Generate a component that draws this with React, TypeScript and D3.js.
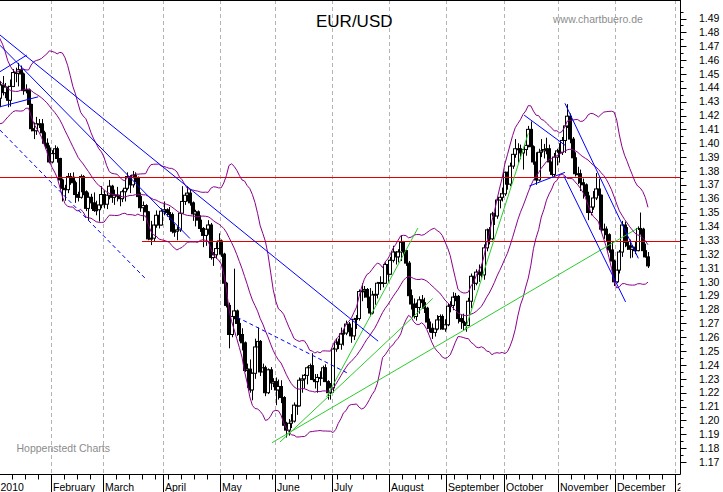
import React, { useEffect, useRef } from "react";
import * as d3 from "d3";

type Ohlc = [number, number, number, number];

// December 2009 closes, only used as lookback for the 20-day bands
const dec2009Closes = [
  1.51, 1.506, 1.506, 1.486, 1.481, 1.47, 1.474, 1.473, 1.462, 1.462, 1.455,
  1.452, 1.434, 1.434, 1.426, 1.428, 1.433, 1.438, 1.438, 1.437, 1.436, 1.434,
  1.433,
];

// Daily EUR/USD candles 2010 (open, high, low, close), one row per weekday
const jan: Ohlc[] = [
  [1.433, 1.434, 1.431, 1.4325],
  [1.4325, 1.445, 1.426, 1.442],
  [1.442, 1.4485, 1.4345, 1.4365],
  [1.4365, 1.4435, 1.4325, 1.4405],
  [1.4405, 1.4415, 1.426, 1.431],
  [1.431, 1.446, 1.4265, 1.441],
  [1.441, 1.4535, 1.4405, 1.451],
  [1.451, 1.4545, 1.444, 1.4505],
  [1.4505, 1.458, 1.441, 1.453],
  [1.453, 1.456, 1.4465, 1.45],
  [1.45, 1.451, 1.435, 1.438],
  [1.438, 1.4425, 1.436, 1.4385],
  [1.4385, 1.4395, 1.4255, 1.428],
  [1.428, 1.4285, 1.4085, 1.4105],
  [1.4105, 1.415, 1.403, 1.409],
  [1.409, 1.419, 1.406, 1.414],
  [1.414, 1.4175, 1.411, 1.414],
  [1.414, 1.4175, 1.404, 1.4075],
  [1.4075, 1.409, 1.3985, 1.4],
  [1.4, 1.4035, 1.394, 1.3965],
  [1.3965, 1.3985, 1.3855, 1.3865],
];
const feb: Ohlc[] = [
  [1.3865, 1.395, 1.3855, 1.3925],
  [1.3925, 1.3985, 1.389, 1.396],
  [1.396, 1.3975, 1.386, 1.389],
  [1.389, 1.3895, 1.372, 1.3735],
  [1.3735, 1.3745, 1.358, 1.3675],
  [1.3675, 1.37, 1.3585, 1.3665],
  [1.3665, 1.3785, 1.364, 1.376],
  [1.376, 1.3785, 1.37, 1.3755],
  [1.3755, 1.379, 1.364, 1.3715],
  [1.3715, 1.373, 1.357, 1.363],
  [1.363, 1.365, 1.358, 1.361],
  [1.361, 1.3775, 1.36, 1.376],
  [1.376, 1.377, 1.3625, 1.365],
  [1.365, 1.366, 1.351, 1.353],
  [1.353, 1.3645, 1.3445, 1.361],
  [1.361, 1.3635, 1.3525, 1.357],
  [1.357, 1.3645, 1.3505, 1.3515],
  [1.3515, 1.3585, 1.348, 1.352],
  [1.352, 1.357, 1.3435, 1.3555],
  [1.3555, 1.369, 1.353, 1.363],
];
const mar: Ohlc[] = [
  [1.363, 1.366, 1.353, 1.356],
  [1.356, 1.3645, 1.3525, 1.3625],
  [1.3625, 1.3735, 1.3595, 1.369],
  [1.369, 1.37, 1.357, 1.361],
  [1.361, 1.3665, 1.3555, 1.3625],
  [1.3625, 1.3685, 1.358, 1.3625],
  [1.3625, 1.364, 1.3545, 1.36],
  [1.36, 1.3665, 1.3575, 1.365],
  [1.365, 1.37, 1.358, 1.3675],
  [1.3675, 1.379, 1.366, 1.376],
  [1.376, 1.377, 1.364, 1.37],
  [1.37, 1.38, 1.368, 1.377],
  [1.377, 1.379, 1.372, 1.375],
  [1.375, 1.376, 1.36, 1.3615],
  [1.3615, 1.3645, 1.3505, 1.3535],
  [1.3535, 1.358, 1.344, 1.355],
  [1.355, 1.356, 1.347, 1.3505],
  [1.3505, 1.351, 1.33, 1.331],
  [1.331, 1.344, 1.3265, 1.3315],
  [1.3315, 1.3445, 1.329, 1.341],
  [1.341, 1.3515, 1.339, 1.348],
  [1.348, 1.349, 1.3385, 1.341],
  [1.341, 1.353, 1.3405, 1.351],
];
const apr: Ohlc[] = [
  [1.351, 1.358, 1.348, 1.352],
  [1.352, 1.353, 1.347, 1.35],
  [1.35, 1.354, 1.3445, 1.3485],
  [1.3485, 1.35, 1.335, 1.3365],
  [1.3365, 1.342, 1.3325, 1.3365],
  [1.3365, 1.34, 1.33, 1.3375],
  [1.3375, 1.3505, 1.336, 1.3495],
  [1.3495, 1.369, 1.349, 1.358],
  [1.358, 1.364, 1.3555, 1.3625],
  [1.3625, 1.369, 1.358, 1.364],
  [1.364, 1.3665, 1.355, 1.357],
  [1.357, 1.358, 1.344, 1.349],
  [1.349, 1.352, 1.34, 1.3505],
  [1.3505, 1.3515, 1.3395, 1.3445],
  [1.3445, 1.348, 1.336, 1.3385],
  [1.3385, 1.3395, 1.325, 1.3335],
  [1.3335, 1.3395, 1.326, 1.338],
  [1.338, 1.3445, 1.334, 1.341],
  [1.341, 1.3425, 1.316, 1.3175],
  [1.3175, 1.3215, 1.3115, 1.3195],
  [1.3195, 1.3285, 1.317, 1.324],
  [1.324, 1.335, 1.321, 1.3295],
];
const may: Ohlc[] = [
  [1.3295, 1.3305, 1.318, 1.32],
  [1.32, 1.321, 1.2975, 1.299],
  [1.299, 1.3, 1.2815, 1.283],
  [1.283, 1.285, 1.252, 1.262],
  [1.262, 1.278, 1.26, 1.275],
  [1.275, 1.3095, 1.273, 1.279],
  [1.279, 1.28, 1.261, 1.27],
  [1.27, 1.2735, 1.257, 1.262],
  [1.262, 1.2665, 1.2505, 1.256],
  [1.256, 1.257, 1.235, 1.236],
  [1.236, 1.241, 1.2235, 1.237],
  [1.237, 1.244, 1.22, 1.222],
  [1.222, 1.2345, 1.2145, 1.234],
  [1.234, 1.259, 1.23, 1.253],
  [1.253, 1.267, 1.246, 1.257],
  [1.257, 1.258, 1.232, 1.235],
  [1.235, 1.241, 1.2235, 1.238],
  [1.238, 1.2395, 1.2175, 1.22],
  [1.22, 1.2375, 1.219, 1.2365],
  [1.2365, 1.2385, 1.222, 1.227],
  [1.227, 1.2305, 1.224, 1.228],
];
const jun: Ohlc[] = [
  [1.228, 1.231, 1.211, 1.222],
  [1.222, 1.2295, 1.215, 1.2245],
  [1.2245, 1.229, 1.2125, 1.2165],
  [1.2165, 1.2175, 1.196, 1.1965],
  [1.1965, 1.199, 1.1876, 1.193],
  [1.193, 1.201, 1.189, 1.198],
  [1.198, 1.2045, 1.1945, 1.1995],
  [1.1995, 1.213, 1.1985, 1.211],
  [1.211, 1.2165, 1.204, 1.2105],
  [1.2105, 1.231, 1.21, 1.229],
  [1.229, 1.233, 1.22, 1.23],
  [1.23, 1.2335, 1.223, 1.2325],
  [1.2325, 1.239, 1.226, 1.238],
  [1.238, 1.241, 1.233, 1.2395],
  [1.2395, 1.2485, 1.229, 1.2295],
  [1.2295, 1.2335, 1.223, 1.228],
  [1.228, 1.2335, 1.22, 1.231],
  [1.231, 1.2355, 1.225, 1.2305],
  [1.2305, 1.2395, 1.228, 1.238],
  [1.238, 1.2405, 1.228, 1.228],
  [1.228, 1.229, 1.215, 1.22],
  [1.22, 1.227, 1.215, 1.2235],
];
const jul: Ohlc[] = [
  [1.2235, 1.2525, 1.22, 1.2515],
  [1.2515, 1.259, 1.2495, 1.2565],
  [1.2565, 1.259, 1.2515, 1.255],
  [1.255, 1.267, 1.251, 1.2625],
  [1.2625, 1.2655, 1.254, 1.263],
  [1.263, 1.272, 1.2615, 1.2695],
  [1.2695, 1.271, 1.261, 1.264],
  [1.264, 1.267, 1.256, 1.261],
  [1.261, 1.274, 1.258, 1.273],
  [1.273, 1.276, 1.266, 1.2735],
  [1.2735, 1.2945, 1.272, 1.293],
  [1.293, 1.299, 1.286, 1.2935],
  [1.2935, 1.297, 1.2885, 1.2945],
  [1.2945, 1.2955, 1.281, 1.289],
  [1.289, 1.2955, 1.275, 1.2775],
  [1.2775, 1.2935, 1.2765, 1.2905],
  [1.2905, 1.2955, 1.2835, 1.291],
  [1.291, 1.3, 1.288, 1.299],
  [1.299, 1.304, 1.294, 1.2995],
  [1.2995, 1.304, 1.296, 1.299],
  [1.299, 1.314, 1.2985, 1.3125],
  [1.3125, 1.313, 1.3, 1.3055],
];
const aug: Ohlc[] = [
  [1.3055, 1.318, 1.305, 1.3155],
  [1.3155, 1.326, 1.314, 1.3215],
  [1.3215, 1.322, 1.3125, 1.318],
  [1.318, 1.3235, 1.314, 1.3215],
  [1.3215, 1.3333, 1.315, 1.3285],
  [1.3285, 1.3295, 1.32, 1.3225],
  [1.3225, 1.323, 1.3115, 1.3135],
  [1.3135, 1.315, 1.287, 1.29],
  [1.29, 1.2945, 1.28, 1.284],
  [1.284, 1.288, 1.2735, 1.275],
  [1.275, 1.285, 1.272, 1.2815],
  [1.2815, 1.2895, 1.277, 1.287],
  [1.287, 1.2905, 1.2825, 1.285],
  [1.285, 1.2885, 1.2775, 1.281],
  [1.281, 1.282, 1.266, 1.271],
  [1.271, 1.2735, 1.2635, 1.2665],
  [1.2665, 1.27, 1.2588, 1.2635],
  [1.2635, 1.2705, 1.2605, 1.266],
  [1.266, 1.276, 1.265, 1.2725],
  [1.2725, 1.2765, 1.2655, 1.275],
  [1.275, 1.2765, 1.2655, 1.266],
  [1.266, 1.273, 1.264, 1.269],
];
const sep: Ohlc[] = [
  [1.269, 1.284, 1.268, 1.2825],
  [1.2825, 1.286, 1.278, 1.283],
  [1.283, 1.2925, 1.2795, 1.289],
  [1.289, 1.292, 1.286, 1.2895],
  [1.2895, 1.2905, 1.27, 1.2735],
  [1.2735, 1.276, 1.266, 1.2715],
  [1.2715, 1.277, 1.265, 1.2705],
  [1.2705, 1.273, 1.264, 1.2685],
  [1.2685, 1.2885, 1.268, 1.286],
  [1.286, 1.306, 1.281, 1.304],
  [1.304, 1.305, 1.294, 1.299],
  [1.299, 1.309, 1.2975, 1.307],
  [1.307, 1.3125, 1.3, 1.3055],
  [1.3055, 1.3125, 1.303, 1.305],
  [1.305, 1.327, 1.3015, 1.3245],
  [1.3245, 1.3385, 1.322, 1.3375],
  [1.3375, 1.3395, 1.327, 1.331],
  [1.331, 1.3505, 1.33, 1.349],
  [1.349, 1.35, 1.341, 1.3475],
  [1.3475, 1.361, 1.3455, 1.359],
  [1.359, 1.364, 1.353, 1.361],
  [1.361, 1.368, 1.358, 1.3635],
];
const oct: Ohlc[] = [
  [1.3635, 1.3795, 1.362, 1.379],
  [1.379, 1.3795, 1.3665, 1.3705],
  [1.3705, 1.386, 1.369, 1.3835],
  [1.3835, 1.3945, 1.3815, 1.392],
  [1.392, 1.403, 1.3895, 1.396],
  [1.396, 1.4, 1.386, 1.396],
  [1.396, 1.399, 1.3885, 1.393],
  [1.393, 1.395, 1.381, 1.3955],
  [1.3955, 1.401, 1.391, 1.3985],
  [1.3985, 1.4125, 1.397, 1.41],
  [1.41, 1.4157, 1.396, 1.3975],
  [1.3975, 1.3985, 1.3845, 1.3865],
  [1.3865, 1.3935, 1.37, 1.3735],
  [1.3735, 1.396, 1.3725, 1.3935],
  [1.3935, 1.403, 1.39, 1.3945],
  [1.3945, 1.3995, 1.389, 1.3955],
  [1.3955, 1.404, 1.392, 1.396],
  [1.396, 1.399, 1.3795, 1.3865],
  [1.3865, 1.388, 1.376, 1.3775],
  [1.3775, 1.393, 1.376, 1.39],
  [1.39, 1.396, 1.384, 1.3945],
];
const nov: Ohlc[] = [
  [1.3945, 1.4, 1.386, 1.3935],
  [1.3935, 1.4045, 1.3915, 1.402],
  [1.402, 1.413, 1.393, 1.4125],
  [1.4125, 1.4282, 1.411, 1.4195],
  [1.4195, 1.4215, 1.4, 1.403],
  [1.403, 1.4045, 1.388, 1.3895],
  [1.3895, 1.3935, 1.376, 1.378],
  [1.378, 1.383, 1.3705, 1.378],
  [1.378, 1.381, 1.3655, 1.3715],
  [1.3715, 1.3745, 1.36, 1.37],
  [1.37, 1.371, 1.358, 1.362],
  [1.362, 1.365, 1.3445, 1.35],
  [1.35, 1.359, 1.348, 1.354],
  [1.354, 1.3655, 1.352, 1.3605],
  [1.3605, 1.3785, 1.359, 1.367],
  [1.367, 1.3745, 1.36, 1.3625],
  [1.3625, 1.363, 1.336, 1.338],
  [1.338, 1.342, 1.331, 1.338],
  [1.338, 1.34, 1.3295, 1.334],
  [1.334, 1.335, 1.321, 1.323],
  [1.323, 1.3295, 1.309, 1.315],
  [1.315, 1.316, 1.297, 1.3],
];
const dec: Ohlc[] = [
  [1.3, 1.3135, 1.299, 1.3085],
  [1.3085, 1.323, 1.306, 1.3215],
  [1.3215, 1.344, 1.318, 1.341],
  [1.341, 1.3435, 1.325, 1.3285],
  [1.3285, 1.3395, 1.323, 1.326],
  [1.326, 1.3305, 1.317, 1.3235],
  [1.3235, 1.3265, 1.3175, 1.325],
  [1.325, 1.329, 1.32, 1.3225],
  [1.3225, 1.34, 1.322, 1.3385],
  [1.3385, 1.35, 1.334, 1.338],
  [1.338, 1.339, 1.32, 1.3225],
  [1.3225, 1.3275, 1.3175, 1.318],
  [1.318, 1.3215, 1.31, 1.3115],
];
const months = [jan, feb, mar, apr, may, jun, jul, aug, sep, oct, nov, dec];

// Weekday index where each month starts (last one = January 2011)
const monthStarts = [0, 21, 41, 64, 86, 107, 129, 151, 173, 195, 216, 238, 261];
const monthLabels = [
  "2010", "February", "March", "April", "May", "June", "July", "August",
  "September", "October", "November", "December", "2011",
];

const priceTicks = [
  1.17, 1.18, 1.19, 1.2, 1.21, 1.22, 1.23, 1.24, 1.25, 1.26, 1.27, 1.28, 1.29,
  1.3, 1.31, 1.32, 1.33, 1.34, 1.35, 1.36, 1.37, 1.38, 1.39, 1.4, 1.41, 1.42,
  1.43, 1.44, 1.45, 1.46, 1.47, 1.48, 1.49,
];

// Horizontal support / resistance levels
const levels = [
  { price: 1.3757, from: 0 },
  { price: 1.3293, from: 56.1 },
];

// Trend lines: weekday index + price at both ends
interface Trend { i1: number; p1: number; i2: number; p2: number }
const blueLines: Trend[] = [
  { i1: 1.5, p1: 1.4781, i2: 146.8, p2: 1.2572 },
  { i1: 1.5, p1: 1.4707, i2: 74.5, p2: 1.3313 },
  { i1: 1.5, p1: 1.4516, i2: 11.8, p2: 1.4636 },
  { i1: 1.5, p1: 1.4263, i2: 16.2, p2: 1.4335 },
  { i1: 202.9, p1: 1.4203, i2: 218.6, p2: 1.3986 },
  { i1: 204.9, p1: 1.3691, i2: 218.6, p2: 1.379 },
  { i1: 218.6, p1: 1.4288, i2: 246.8, p2: 1.3169 },
  { i1: 218.2, p1: 1.3763, i2: 241.9, p2: 1.2855 },
];
const blueDashed: Trend[] = [
  { i1: 1.5, p1: 1.4095, i2: 58, p2: 1.3012 },
  { i1: 92.6, p1: 1.2745, i2: 135.2, p2: 1.234 },
];
const greenLines: Trend[] = [
  { i1: 106.0, p1: 1.1839, i2: 246.7, p2: 1.3388 },
  { i1: 109.1, p1: 1.1844, i2: 167.8, p2: 1.288 },
  { i1: 127.0, p1: 1.2169, i2: 162.1, p2: 1.3388 },
  { i1: 180.2, p1: 1.2651, i2: 204.5, p2: 1.4071 },
];

const font = "Arial, 'Liberation Sans', Helvetica, sans-serif";

export default function App() {
  const svgRef = useRef<SVGSVGElement>(null);

  useEffect(() => {
    const width = 723;
    const height = 492;
    const plotRight = 680.5;
    const plotBottom = 474.5;

    const svg = d3
      .select(svgRef.current)
      .attr("width", width)
      .attr("height", height);
    svg.selectAll("*").remove();

    const days = months.flat();
    const x = d3.scaleLinear().domain([0, 261]).range([-3.95, 675.3]);
    const y = d3.scaleLinear().domain([1.17, 1.49]).range([462, 18.5]);
    const cx = (i: number) => Math.round(x(i + 0.5));

    svg.append("rect").attr("width", width).attr("height", height).attr("fill", "#fff");

    const defs = svg.append("defs");
    defs
      .append("clipPath")
      .attr("id", "plot-clip")
      .append("rect")
      .attr("x", 0)
      .attr("y", 0)
      .attr("width", plotRight)
      .attr("height", plotBottom);
    defs
      .append("clipPath")
      .attr("id", "axis-clip")
      .append("rect")
      .attr("x", 0)
      .attr("y", plotBottom)
      .attr("width", plotRight)
      .attr("height", height - plotBottom);

    const plot = svg.append("g").attr("clip-path", "url(#plot-clip)");

    // Month grid (dashed)
    plot
      .append("g")
      .selectAll("line")
      .data(monthStarts.slice(1))
      .join("line")
      .attr("x1", (d) => Math.round(x(d)) + 0.5)
      .attr("x2", (d) => Math.round(x(d)) + 0.5)
      .attr("y1", 0)
      .attr("y2", plotBottom)
      .attr("stroke", "#b4b4b4")
      .attr("stroke-dasharray", "4,3");

    // Candles
    const candles = plot.append("g");
    days.forEach(([o, h, l, c], i) => {
      const xc = cx(i);
      candles
        .append("line")
        .attr("x1", xc + 0.5)
        .attr("x2", xc + 0.5)
        .attr("y1", y(h))
        .attr("y2", y(l))
        .attr("stroke", "#000");
      const top = y(Math.max(o, c));
      const bot = y(Math.min(o, c));
      candles
        .append("rect")
        .attr("x", xc - 1.5)
        .attr("y", top)
        .attr("width", 3)
        .attr("height", Math.max(bot - top, 1))
        .attr("fill", c >= o ? "#fff" : "#000")
        .attr("stroke", "#000");
    });

    // Support / resistance levels
    plot
      .append("g")
      .selectAll("line")
      .data(levels)
      .join("line")
      .attr("x1", (d) => x(d.from))
      .attr("x2", plotRight)
      .attr("y1", (d) => Math.round(y(d.price)) + 0.5)
      .attr("y2", (d) => Math.round(y(d.price)) + 0.5)
      .attr("stroke", "#e00000");

    // Bollinger bands 20 / 2
    const closes = [...dec2009Closes, ...days.map((d) => d[3])];
    const off = dec2009Closes.length;
    const bands = days.map((_, i) => {
      const w = closes.slice(off + i - 19, off + i + 1);
      const m = d3.mean(w)!;
      const sd = Math.sqrt(d3.mean(w, (v) => (v - m) ** 2)!);
      return { i, mid: m, up: m + 2 * sd, lo: m - 2 * sd };
    });
    (["up", "mid", "lo"] as const).forEach((k) => {
      const line = d3
        .line<(typeof bands)[number]>()
        .x((d) => x(d.i + 0.5))
        .y((d) => y(d[k]));
      plot
        .append("path")
        .datum(bands)
        .attr("fill", "none")
        .attr("stroke", "#8a008a")
        .attr("stroke-width", 1)
        .attr("d", line);
    });

    // Trend lines
    const drawTrends = (data: Trend[], color: string, dash?: string) => {
      plot
        .append("g")
        .selectAll("line")
        .data(data)
        .join("line")
        .attr("x1", (d) => x(d.i1))
        .attr("y1", (d) => y(d.p1))
        .attr("x2", (d) => x(d.i2))
        .attr("y2", (d) => y(d.p2))
        .attr("stroke", color)
        .attr("stroke-dasharray", dash ?? null);
    };
    drawTrends(greenLines, "#2ccc2c");
    drawTrends(blueLines, "#0000ff");
    drawTrends(blueDashed, "#0000ff", "4,3");

    // Frame: top line, right axis, bottom axis
    svg.append("line").attr("x1", 0).attr("x2", plotRight).attr("y1", 0.5).attr("y2", 0.5).attr("stroke", "#000");
    svg.append("line").attr("x1", plotRight).attr("x2", plotRight).attr("y1", 0).attr("y2", plotBottom).attr("stroke", "#000");
    svg.append("line").attr("x1", 0).attr("x2", plotRight).attr("y1", plotBottom).attr("y2", plotBottom).attr("stroke", "#000");

    // Right price axis
    const yAxis = svg.append("g");
    priceTicks.forEach((p) => {
      const yy = Math.round(y(p)) + 0.5;
      yAxis.append("line").attr("x1", plotRight).attr("x2", plotRight + 6).attr("y1", yy).attr("y2", yy).attr("stroke", "#000");
      const yh = Math.round(y(p + 0.005)) + 0.5;
      yAxis.append("line").attr("x1", plotRight).attr("x2", plotRight + 3).attr("y1", yh).attr("y2", yh).attr("stroke", "#000");
      yAxis
        .append("text")
        .attr("x", 699)
        .attr("y", y(p))
        .attr("dy", "0.35em")
        .style("font-family", font)
        .style("font-size", "10.5px")
        .attr("fill", "#000")
        .text(p.toFixed(2));
    });

    // Bottom time axis: weekly ticks and month separators
    const xAxis = svg.append("g");
    d3.range(1, 261, 5).forEach((i) => {
      const xx = Math.round(x(i)) + 0.5;
      if (xx < 0 || xx > plotRight) return;
      xAxis.append("line").attr("x1", xx).attr("x2", xx).attr("y1", plotBottom).attr("y2", plotBottom + 5).attr("stroke", "#000");
    });
    const monthsG = xAxis.append("g").attr("clip-path", "url(#axis-clip)");
    monthStarts.forEach((m, k) => {
      const xx = Math.round(x(m)) + 0.5;
      monthsG.append("line").attr("x1", xx).attr("x2", xx).attr("y1", plotBottom).attr("y2", height).attr("stroke", "#000");
      monthsG
        .append("text")
        .attr("x", k === 0 ? 0.5 : xx + 1.5)
        .attr("y", 490.5)
        .style("font-family", font)
        .style("font-size", "10.5px")
        .attr("fill", "#000")
        .text(monthLabels[k]);
    });

    // Titles and credits
    svg.append("text").attr("x", 316).attr("y", 26.5).style("font-family", font).style("font-size", "17px").attr("fill", "#000").text("EUR/USD");
    svg.append("text").attr("x", 553).attr("y", 23).style("font-family", font).style("font-size", "10.5px").attr("fill", "#8c8c8c").text("www.chartbuero.de");
    svg.append("text").attr("x", 16.5).attr("y", 452).style("font-family", font).style("font-size", "10.5px").attr("fill", "#8c8c8c").text("Hoppenstedt Charts");
  }, []);

  return <svg ref={svgRef} style={{ position: "absolute", left: 0, top: 0, display: "block" }} />;
}
